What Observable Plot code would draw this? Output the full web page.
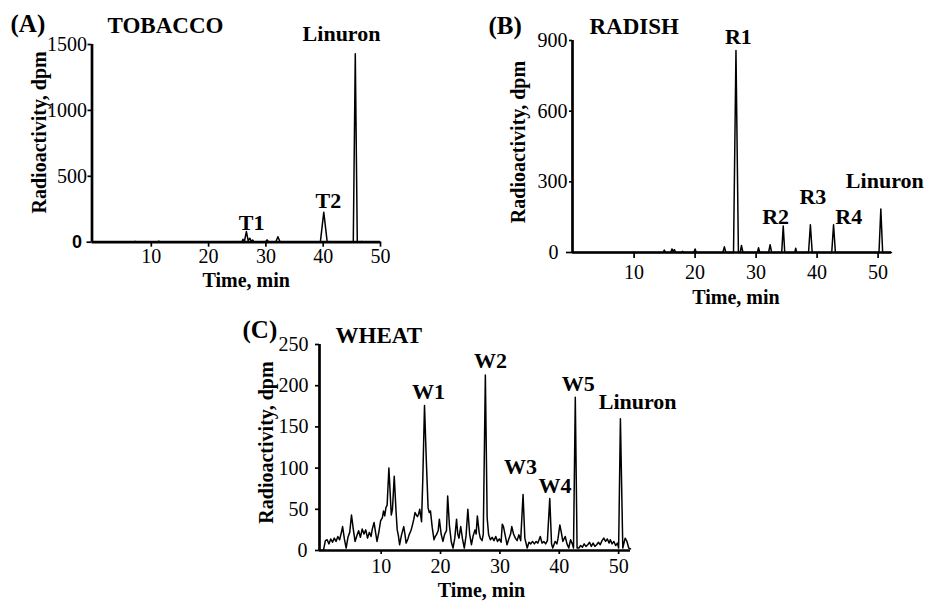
<!DOCTYPE html>
<html>
<head>
<meta charset="utf-8">
<script src="https://cdn.jsdelivr.net/npm/d3@7"></script>
<script src="https://cdn.jsdelivr.net/npm/@observablehq/plot@0.6"></script>
<style>
html, body { margin: 0; padding: 0; background: #fff; }
#wrap { position: relative; width: 926px; height: 601px; overflow: hidden; background: #fff; }
#wrap > svg { position: absolute; overflow: visible; }
</style>
</head>
<body>
<div id="wrap"></div>
<script>
// ---------- DATA ----------
// (A) TOBACCO
const tobaccoTime = [0, 7.0, 7.2, 7.4, 11.0, 11.3, 11.6, 18.4, 18.6, 18.8, 23.6, 23.8, 24.0, 24.4, 24.6, 24.8, 25.2, 25.4, 25.6, 25.8, 26.0, 26.25, 26.6, 26.9, 27.2, 27.45, 27.7, 27.95, 29.9, 30.2, 30.5, 31.7, 32.1, 32.5, 36.7, 36.9, 37.1, 39.5, 40.1, 40.7, 41.1, 41.3, 41.5, 45.25, 45.6, 45.95, 46.5, 46.7, 46.9, 50];
const tobaccoDpm  = [0, 0, 6, 0, 0, 7, 0, 0, 4, 0, 0, 4, 0, 0, 5, 0, 0, 4, 0, 0, 22, 6, 81, 12, 30, 6, 16, 0, 0, 18, 0, 0, 42, 0, 0, 4, 0, 0, 228, 0, 0, 5, 0, 0, 1430, 0, 0, 6, 0, 0];
const tobaccoPeakNames = ["T1", "T2", "Linuron"];
const tobaccoPeakTime  = [27.5, 40.9, 43.2];
const tobaccoPeakDpm   = [89, 263, 1523];

// (B) RADISH
const radishTime = [0, 14.75, 14.95, 15.15, 16.0, 16.2, 16.4, 16.6, 16.85, 17.8, 17.95, 18.1, 19.8, 20.0, 20.2, 24.55, 24.8, 25.05, 26.3, 26.7, 27.1, 27.4, 27.6, 27.85, 30.2, 30.4, 30.6, 32.05, 32.3, 32.55, 34.2, 34.45, 34.7, 36.35, 36.5, 36.65, 38.6, 38.9, 39.2, 42.4, 42.7, 43.0, 50.15, 50.45, 50.75, 52.2];
const radishDpm  = [0, 0, 10, 0, 0, 15, 5, 12, 0, 0, 5, 0, 0, 15, 0, 0, 24, 0, 0, 858, 0, 0, 30, 0, 0, 20, 0, 0, 33, 0, 0, 112, 0, 0, 18, 0, 0, 118, 0, 0, 118, 0, 0, 185, 0, 0];
const radishPeakNames = ["R1", "R2", "R3", "R4", "Linuron"];
const radishPeakTime  = [27.1, 33.2, 39.3, 45.2, 51.1];
const radishPeakDpm   = [887, 119, 204, 119, 272];

// (C) WHEAT
const wheatTime = [0.0, 0.3, 0.6, 0.9, 1.2, 1.5, 1.8, 2.1, 2.4, 2.7, 3.0, 3.3, 3.5, 3.8, 4.1, 4.4, 4.7, 5.0, 5.3, 5.6, 5.9, 6.2, 6.5, 6.8, 7.1, 7.4, 7.7, 8.0, 8.3, 8.5, 8.8, 9.1, 9.3, 9.6, 9.9, 10.2, 10.4, 10.6, 10.8, 11.0, 11.3, 11.5, 11.7, 11.9, 12.2, 12.5, 12.7, 12.9, 13.1, 13.4, 13.8, 14.0, 14.2, 14.5, 14.7, 15.0, 15.2, 15.5, 15.7, 16.1, 16.3, 16.5, 16.8, 17.0, 17.3, 17.6, 17.9, 18.1, 18.3, 18.6, 18.9, 19.1, 19.3, 19.6, 19.8, 20.1, 20.4, 20.7, 21.0, 21.2, 21.5, 21.8, 22.1, 22.4, 22.7, 22.9, 23.1, 23.4, 23.7, 24.0, 24.3, 24.6, 24.9, 25.2, 25.5, 25.8, 26.0, 26.2, 26.5, 26.7, 27.0, 27.2, 27.55, 27.85, 28.1, 28.4, 28.7, 29.0, 29.3, 29.6, 29.9, 30.2, 30.4, 30.6, 30.9, 31.2, 31.5, 31.8, 32.0, 32.3, 32.6, 32.9, 33.2, 33.5, 33.9, 34.2, 34.6, 34.9, 35.2, 35.5, 35.8, 36.1, 36.4, 36.8, 37.1, 37.4, 37.7, 38.0, 38.4, 38.7, 38.9, 39.3, 39.6, 39.8, 40.1, 40.4, 40.6, 41.0, 41.3, 41.6, 41.9, 42.2, 42.4, 42.7, 43.0, 43.3, 43.6, 43.9, 44.2, 44.5, 44.8, 45.1, 45.4, 45.7, 46.0, 46.3, 46.6, 46.9, 47.2, 47.5, 47.8, 48.1, 48.4, 48.6, 48.9, 49.2, 49.5, 49.8, 50.0, 50.3, 50.7, 51.1, 51.4, 51.7, 52.0];
const wheatDpm  = [0, 1, 12, 13, 8, 14, 10, 15, 11, 17, 13, 22, 29, 14, 3, 16, 22, 43, 26, 11, 18, 24, 16, 26, 20, 25, 15, 22, 17, 26, 34, 20, 11, 22, 36, 40, 48, 42, 52, 55, 100, 72, 43, 50, 90, 48, 25, 18, 7, 18, 29, 20, 9, 14, 19, 24, 29, 38, 46, 41, 44, 50, 35, 84, 176, 110, 52, 46, 48, 28, 13, 17, 19, 24, 38, 20, 11, 20, 24, 66, 30, 11, 3, 15, 38, 20, 15, 29, 14, 3, 18, 50, 20, 7, 18, 25, 20, 42, 22, 15, 12, 20, 213, 40, 19, 13, 16, 12, 17, 11, 14, 10, 32, 29, 18, 7, 14, 20, 29, 20, 15, 12, 19, 12, 68, 15, 3, 10, 8, 11, 8, 11, 9, 17, 9, 11, 8, 12, 63, 8, 3, 11, 8, 15, 31, 20, 11, 17, 8, 3, 13, 8, 3, 186, 3, 3, 6, 4, 8, 5, 7, 10, 5, 9, 5, 7, 10, 7, 12, 15, 11, 14, 9, 13, 8, 11, 6, 9, 3, 160, 3, 15, 11, 3, 2];
const wheatPeakNames = ["W1", "W2", "W3", "W4", "W5", "Linuron"];
const wheatPeakTime  = [17.96, 28.4, 33.45, 39.3, 43.2, 53.2];
const wheatPeakDpm   = [184, 221, 93, 70, 194, 172];

const xTicks = [10, 20, 30, 40, 50];
const tobaccoYTicks = [500, 1000, 1500];
const radishYTicks = [300, 600, 900];
const wheatYTicks = [50, 100, 150, 200, 250];

// ---------- DRAWING ----------
const SERIF = "'Liberation Serif', 'Times New Roman', Times, serif";
const SANS = "'Liberation Sans', Arial, Helvetica, sans-serif";

function panel(o) {
  const rows = o.time.map((t, i) => ({t, v: o.dpm[i]}));
  const peaks = o.peakNames.map((name, i) => ({name, t: o.peakTime[i], v: o.peakDpm[i]}));
  const svg = Plot.plot({
    width: o.width,
    height: o.height,
    marginLeft: o.ml, marginRight: o.mr, marginTop: o.mt, marginBottom: o.mb,
    style: {background: "transparent", color: "black", fontFamily: SERIF, fontSize: "20px", overflow: "visible"},
    x: {domain: o.xDomain, axis: null},
    y: {domain: o.yDomain, axis: null},
    marks: [
      Plot.line(rows, {x: "t", y: "v", stroke: "#000", strokeWidth: 1.5, strokeLinejoin: "round"}),
      Plot.ruleY([0], {stroke: "#000", strokeWidth: 2.7}),
      Plot.ruleX([o.xDomain[0]], {stroke: "#000", strokeWidth: 2.7}),
      Plot.axisX({ticks: xTicks, tickFormat: "d", tickSize: o.xTickSize, tickPadding: o.xTickPad, strokeWidth: 1.7, label: null, fontFamily: SERIF, fontSize: 20}),
      Plot.axisY({ticks: o.yTicks, tickFormat: "d", tickSize: o.yTickSize, tickPadding: o.yTickPad, strokeWidth: 1.7, label: null, fontFamily: SERIF, fontSize: 20}),
      Plot.axisY({ticks: [0], tickFormat: "d", tickSize: o.zeroTickSize, tickPadding: o.zeroTickPad, strokeWidth: 1.7, label: null,
        fontFamily: o.zeroSans ? SANS : SERIF, fontWeight: o.zeroSans ? "bold" : "normal", fontSize: o.zeroSans ? 18 : 20}),
      Plot.text(peaks, {x: "t", y: "v", text: "name", textAnchor: "middle", lineAnchor: "bottom", fontWeight: "bold", fontSize: 22, fontFamily: SERIF}),
      Plot.text([o.letter], {frameAnchor: "top-left", dx: o.letterDx, dy: o.letterDy, textAnchor: "start", lineAnchor: "bottom", fontWeight: "bold", fontSize: 25, fontFamily: SERIF}),
      Plot.text([o.crop], {frameAnchor: "top-left", dx: o.cropDx, dy: o.cropDy, textAnchor: "start", lineAnchor: "bottom", fontWeight: "bold", fontSize: 23, fontFamily: SERIF}),
      Plot.text(["Time, min"], {frameAnchor: "bottom", dx: o.xlDx, dy: o.xlDy, textAnchor: "middle", lineAnchor: "bottom", fontWeight: "bold", fontSize: 20, fontFamily: SERIF}),
      Plot.text(["Radioactivity, dpm"], {frameAnchor: "left", rotate: -90, dx: o.ylDx, dy: o.ylDy, textAnchor: "middle", lineAnchor: "middle", fontWeight: "bold", fontSize: 20, fontFamily: SERIF})
    ]
  });
  svg.style.left = o.left + "px";
  svg.style.top = o.top + "px";
  document.getElementById("wrap").appendChild(svg);
}

panel({
  left: 0, top: 0, width: 460, height: 300, ml: 91.5, mr: 80, mt: 44, mb: 58.3,
  xDomain: [-0.35, 50], yDomain: [0, 1500],
  time: tobaccoTime, dpm: tobaccoDpm,
  peakNames: tobaccoPeakNames, peakTime: tobaccoPeakTime, peakDpm: tobaccoPeakDpm,
  yTicks: tobaccoYTicks,
  xTickSize: 5, xTickPad: 2, yTickSize: 4, yTickPad: 1, zeroTickSize: 5, zeroTickPad: 5, zeroSans: true,
  letter: "(A)", letterDx: -81.5, letterDy: -13, crop: "TOBACCO", cropDx: 15.5, cropDy: -12,
  xlDx: 10, xlDy: 45, ylDx: -52.5, ylDy: -11
});

panel({
  left: 470, top: 0, width: 456, height: 310, ml: 102, mr: 35, mt: 40, mb: 58,
  xDomain: [-0.1, 52.2], yDomain: [0, 900],
  time: radishTime, dpm: radishDpm,
  peakNames: radishPeakNames, peakTime: radishPeakTime, peakDpm: radishPeakDpm,
  yTicks: radishYTicks,
  xTickSize: 6, xTickPad: 6, yTickSize: 3, yTickPad: 2, zeroTickSize: 6, zeroTickPad: 8, zeroSans: false,
  letter: "(B)", letterDx: -84, letterDy: -7, crop: "RADISH", cropDx: 17, cropDy: -7,
  xlDx: 4, xlDy: 51, ylDx: -54, ylDy: -4.5
});

panel({
  left: 230, top: 300, width: 440, height: 301, ml: 89, mr: 40, mt: 44, mb: 51,
  xDomain: [-0.39, 52.0], yDomain: [0, 250],
  time: wheatTime, dpm: wheatDpm,
  peakNames: wheatPeakNames, peakTime: wheatPeakTime, peakDpm: wheatPeakDpm,
  yTicks: wheatYTicks,
  xTickSize: 4, xTickPad: 4, yTickSize: 4, yTickPad: 7, zeroTickSize: 4, zeroTickPad: 8, zeroSans: false,
  letter: "(C)", letterDx: -77, letterDy: -7, crop: "WHEAT", cropDx: 16, cropDy: -2,
  xlDx: 6.5, xlDy: 46, ylDx: -53, ylDy: -5
});
</script>
</body>
</html>
